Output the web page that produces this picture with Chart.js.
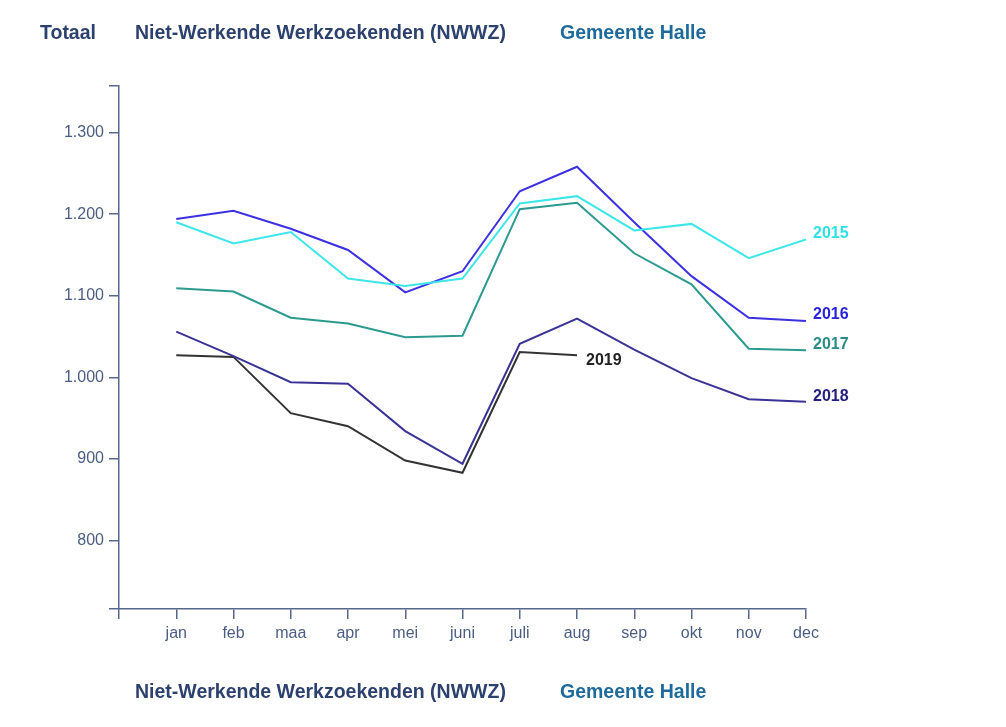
<!DOCTYPE html>
<html lang="nl">
<head>
<meta charset="utf-8">
<title>NWWZ Gemeente Halle</title>
<script src="https://cdn.jsdelivr.net/npm/chart.js@4/dist/chart.umd.min.js"></script>
<style>
  html, body { margin: 0; padding: 0; background: #fff; }
  #wrap { position: relative; width: 1006px; height: 727px; overflow: hidden; }
  #wrap canvas { position: absolute; left: 0; top: 0; }
  .hdr {
    position: absolute;
    font-family: "Liberation Sans", Arial, sans-serif;
    font-weight: bold;
    font-size: 19.5px;
    line-height: 22px;
    color: #2d416e;
    white-space: nowrap;
  }
  .hdr.city { color: #1d6a9b; font-size: 19.5px; }
</style>
</head>
<body>
<div id="wrap">
  <canvas id="chart" width="1006" height="727"></canvas>
  <div class="hdr" style="left:40px; top:21px;">Totaal</div>
  <div class="hdr" style="left:135px; top:21px;">Niet-Werkende Werkzoekenden (NWWZ)</div>
  <div class="hdr city" style="left:560px; top:21px;">Gemeente Halle</div>
  <div class="hdr" style="left:135px; top:680px;">Niet-Werkende Werkzoekenden (NWWZ)</div>
  <div class="hdr city" style="left:560px; top:680px;">Gemeente Halle</div>
</div>
<script>
// Categories and values
const months = ['jan', 'feb', 'maa', 'apr', 'mei', 'juni', 'juli', 'aug', 'sep', 'okt', 'nov', 'dec'];
const years = ['2015', '2016', '2017', '2018', '2019'];

const nwwz2015 = [1190, 1164, 1178, 1121, 1112, 1121, 1213, 1222, 1180, 1188, 1146, 1169];
const nwwz2016 = [1194, 1204, 1182, 1156, 1104, 1130, 1228, 1258, 1190, 1124, 1073, 1069];
const nwwz2017 = [1109, 1105, 1073, 1066, 1049, 1051, 1206, 1214, 1152, 1114, 1035, 1033];
const nwwz2018 = [1056, 1026, 994, 992, 934, 894, 1041, 1072, 1034, 999, 973, 970];
const nwwz2019 = [1027, 1025, 956, 940, 898, 883, 1031, 1027];

const yTickValues = [800, 900, 1000, 1100, 1200, 1300];
const yMin = 716;
const yMax = 1357;

// Styling
const axisColor = '#56698c';
const tickColor = '#4a5e84';
const lineColors = ['#3ee6ea', '#3b30e2', '#2c9a8f', '#3a3395', '#333333'];
const labelColors = ['#2fe0e4', '#2a22dc', '#2a8c86', '#241f7c', '#222222'];
const labelOffsets = [
  { dx: 7, dy: -6 },
  { dx: 7, dy: -6 },
  { dx: 7, dy: -6 },
  { dx: 7, dy: -5 },
  { dx: 9, dy: 5 }
];

const series = [nwwz2015, nwwz2016, nwwz2017, nwwz2018, nwwz2019];

function formatThousands(v) {
  return String(v).replace(/\B(?=(\d{3})+(?!\d))/g, '.');
}

/**
 * Draw the year label next to the last point of each line
 */
const endLabels = {
  id: 'endLabels',
  afterDatasetsDraw(chart) {
    const ctx = chart.ctx;
    ctx.save();
    ctx.font = 'bold 16px "Liberation Sans", Arial, sans-serif';
    ctx.textBaseline = 'middle';
    ctx.textAlign = 'left';
    chart.data.datasets.forEach((ds, i) => {
      const meta = chart.getDatasetMeta(i);
      const last = meta.data[meta.data.length - 1];
      if (!last) return;
      const off = labelOffsets[i];
      ctx.fillStyle = labelColors[i];
      ctx.fillText(ds.label, last.x + off.dx, last.y + off.dy);
    });
    ctx.restore();
  }
};

const datasets = years.map((year, i) => ({
  label: year,
  data: series[i].map((v, m) => ({ x: m, y: v })),
  borderColor: lineColors[i],
  backgroundColor: lineColors[i],
  borderWidth: 2,
  pointRadius: 0,
  tension: 0,
  fill: false
}));

new Chart(document.getElementById('chart'), {
  type: 'line',
  data: { datasets },
  options: {
    responsive: false,
    animation: false,
    layout: { padding: { left: 0, top: 86, right: 200, bottom: 0 } },
    plugins: {
      legend: { display: false },
      title: { display: false },
      tooltip: { enabled: false }
    },
    scales: {
      x: {
        type: 'linear',
        min: -1,
        max: 11,
        afterFit(scale) { scale.height = 118; },
        afterBuildTicks(scale) {
          const t = [];
          for (let v = -1; v <= 11; v++) t.push({ value: v });
          scale.ticks = t;
        },
        border: { display: true, color: axisColor, width: 1.5 },
        grid: { display: true, drawOnChartArea: false, drawTicks: true, tickLength: 10, color: axisColor, lineWidth: 1.5 },
        ticks: {
          autoSkip: false,
          maxRotation: 0,
          padding: 5,
          color: tickColor,
          font: { family: '"Liberation Sans", Arial, sans-serif', size: 16 },
          callback: (v) => months[v] || ''
        }
      },
      y: {
        type: 'linear',
        min: yMin,
        max: yMax,
        afterFit(scale) { scale.width = 119; },
        afterBuildTicks(scale) {
          scale.ticks = [yMin].concat(yTickValues, [yMax]).map(v => ({ value: v }));
        },
        border: { display: true, color: axisColor, width: 1.5 },
        grid: { display: true, drawOnChartArea: false, drawTicks: true, tickLength: 10, color: axisColor, lineWidth: 1.5 },
        ticks: {
          autoSkip: false,
          padding: 5,
          color: tickColor,
          font: { family: '"Liberation Sans", Arial, sans-serif', size: 16 },
          callback: (v) => yTickValues.includes(v) ? formatThousands(v) : ''
        }
      }
    }
  },
  plugins: [endLabels]
});
</script>
</body>
</html>
